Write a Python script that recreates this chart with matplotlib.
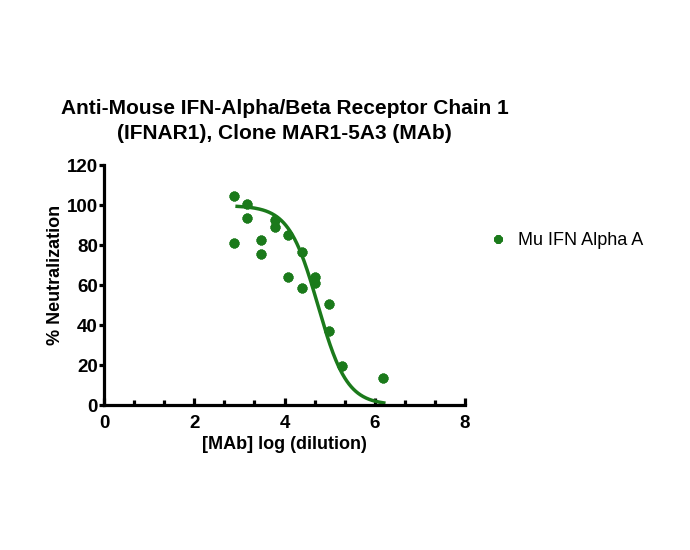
import numpy as np
import matplotlib.pyplot as plt

plt.rcParams['font.family'] = ['Liberation Sans', 'DejaVu Sans']

# data
log_dilution = [2.88, 2.88, 3.18, 3.18, 3.48, 3.48, 3.78, 3.78, 4.08, 4.08,
                4.38, 4.38, 4.68, 4.68, 4.98, 4.98, 5.28, 6.18]
neutralization = [104.5, 81.0, 100.5, 93.5, 82.5, 75.5, 92.5, 89.0, 85.0, 64.0,
                  76.5, 58.5, 64.0, 61.0, 50.5, 37.0, 19.5, 13.5]

# 4PL fit parameters (top, bottom, logIC50, hill slope)
fit_top = 99.7
fit_bottom = 0.0
fit_log_ic50 = 4.74
fit_hill = 1.35
fit_range = (2.95, 6.2)

green = '#1b7a1b'

fig = plt.figure(figsize=(6.9, 5.5), dpi=100)
ax = fig.add_axes([104 / 690, 1 - 405 / 550, 361 / 690, 240 / 550])

ax.plot(log_dilution, neutralization, linestyle='none', marker=(8, 2, 0),
        markersize=7, markeredgewidth=2.4, color=green, label='Mu IFN Alpha A',
        clip_on=False, zorder=3)

xc = np.linspace(fit_range[0], fit_range[1], 200)
yc = fit_bottom + (fit_top - fit_bottom) / (1 + 10 ** ((xc - fit_log_ic50) * fit_hill))
ax.plot(xc, yc, color=green, linewidth=2.5, zorder=2)

ax.set_xlim(0, 8)
ax.set_ylim(0, 120)
ax.set_xticks([0, 2, 4, 6, 8])
ax.set_xticks(np.arange(0, 8.01, 2 / 3), minor=True)
ax.set_yticks(range(0, 121, 20))

for s in ['top', 'right']:
    ax.spines[s].set_visible(False)
for s in ['left', 'bottom']:
    ax.spines[s].set_linewidth(2.3)

ax.tick_params(axis='x', which='major', direction='in', length=5, width=2.3, pad=7)
ax.tick_params(axis='x', which='minor', direction='in', length=3.5, width=2.3)
ax.tick_params(axis='y', direction='out', length=3.5, width=2.3, pad=1)
for lab in ax.get_xticklabels() + ax.get_yticklabels():
    lab.set_fontweight('bold')
    lab.set_fontsize(13.5)

ax.set_xlabel('[MAb] log (dilution)', fontsize=13, fontweight='bold', labelpad=3)
ax.set_ylabel('% Neutralization', fontsize=13, fontweight='bold')
ax.yaxis.set_label_coords(-0.112, 0.54)
ax.set_title('Anti-Mouse IFN-Alpha/Beta Receptor Chain 1\n(IFNAR1), Clone MAR1-5A3 (MAb)',
             fontsize=15, fontweight='bold', pad=19, linespacing=1.4)

ax.legend(loc='center left', bbox_to_anchor=(1.022, 0.685), frameon=False,
          fontsize=13, handlelength=1, handletextpad=0.6, markerscale=0.85)

fig.savefig('out.png', dpi=100)
